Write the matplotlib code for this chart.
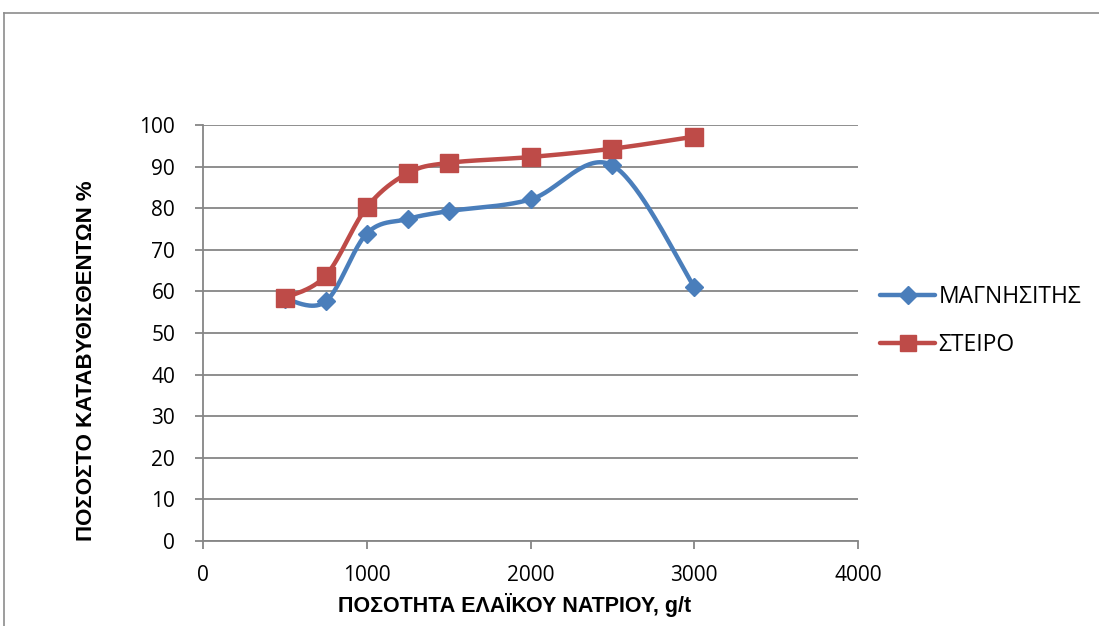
import numpy as np
import matplotlib
matplotlib.use("Agg")
import matplotlib.pyplot as plt
from matplotlib.lines import Line2D

# Sodium oleate dosage (g/t)
dosage = [500, 750, 1000, 1250, 1500, 2000, 2500, 3000]
# Percentage of material sunk (%)
magnesite = [58.2, 57.6, 73.9, 77.4, 79.3, 82.1, 90.3, 61.1]
barren = [58.4, 63.8, 80.2, 88.4, 90.9, 92.3, 94.3, 97.2]

series_names = ["ΜΑΓΝΗΣΙΤΗΣ", "ΣΤΕΙΡΟ"]
x_ticks = [0, 1000, 2000, 3000, 4000]
y_ticks = list(range(0, 101, 10))

BLUE = "#4A7EBB"
RED = "#BE4B48"
GRID = "#868686"


def smooth(xs, ys, n=40):
    """Cardinal (Catmull-Rom style) Bezier smoothing through the points."""
    p = np.column_stack([xs, ys]).astype(float)
    pts = np.vstack([p[0], p, p[-1]])
    out = [p[:1]]
    t = np.linspace(0, 1, n)[1:, None]
    for i in range(1, len(pts) - 2):
        p0, p1, p2, p3 = pts[i - 1], pts[i], pts[i + 1], pts[i + 2]
        c1 = p1 + (p2 - p0) / 6.0
        c2 = p2 - (p3 - p1) / 6.0
        seg = ((1 - t) ** 3) * p1 + 3 * ((1 - t) ** 2) * t * c1 \
            + 3 * (1 - t) * t ** 2 * c2 + t ** 3 * p2
        out.append(seg)
    c = np.vstack(out)
    return c[:, 0], c[:, 1]


W, H = 1099, 626
fig = plt.figure(figsize=(W / 100, H / 100), dpi=100)
ax = fig.add_axes([203 / W, 1 - 541 / H, (858 - 203) / W, (541 - 125) / H])

# chart area frame (top and left edges)
fig.add_artist(Line2D([4 / W, 4 / W], [0, 1 - 13 / H], transform=fig.transFigure,
                      color="#8c8c8c", lw=1.2))
fig.add_artist(Line2D([4 / W, 1], [1 - 13 / H, 1 - 13 / H], transform=fig.transFigure,
                      color="#8c8c8c", lw=1.2))

ax.set_xlim(0, 4000)
ax.set_ylim(0, 100)
ax.set_xticks(x_ticks)
ax.set_yticks(y_ticks)
ax.yaxis.grid(True, color=GRID, lw=1.3)
ax.set_axisbelow(True)

for side in ["top", "right", "bottom"]:
    ax.spines[side].set_visible(False)
ax.spines["left"].set_color(GRID)
ax.spines["left"].set_linewidth(1.3)
ax.spines["left"].set_zorder(1)

ax.tick_params(axis="both", direction="out", length=6, width=1.3, color=GRID,
               labelcolor="black", labelsize=15)
ax.tick_params(axis="x", pad=11)
ax.tick_params(axis="y", pad=14)
for lab in ax.get_xticklabels() + ax.get_yticklabels():
    lab.set_fontfamily("Open Sans")

ax.axhline(0, color=GRID, lw=1.3, zorder=1, clip_on=False)

sx, sy = smooth(dosage, magnesite)
ax.plot(sx, sy, color=BLUE, lw=3.2, solid_capstyle="round", zorder=3)
ax.plot(dosage, magnesite, ls="none", marker="D", ms=9, color=BLUE, zorder=4)

sx, sy = smooth(dosage, barren)
ax.plot(sx, sy, color=RED, lw=3.2, solid_capstyle="round", zorder=5)
ax.plot(dosage, barren, ls="none", marker="s", ms=13.5, color=RED, zorder=6)

handles = [
    Line2D([], [], color=BLUE, lw=3.2, marker="D", ms=9, solid_capstyle="round"),
    Line2D([], [], color=RED, lw=3.2, marker="s", ms=12, solid_capstyle="round"),
]
fig.legend(handles, series_names, loc="center left",
           bbox_to_anchor=(880 / W, 1 - 321 / H), frameon=False,
           prop=dict(family="Open Sans", size=16.5), handlelength=2.4,
           handletextpad=0.15, labelspacing=1.05, borderpad=0, borderaxespad=0)

fig.text(87 / W, 1 - 361 / H, "ΠΟΣΟΣΤΟ ΚΑΤΑΒΥΘΙΣΘΕΝΤΩΝ %", rotation=90,
         ha="center", va="center", family="Liberation Sans", weight="bold",
         size=16)
fig.text(515 / W, 1 - 605 / H, "ΠΟΣΟΤΗΤΑ ΕΛΑΪΚΟΥ ΝΑΤΡΙΟΥ, g/t",
         ha="center", va="center", family="Liberation Sans", weight="bold",
         size=15.5)

fig.savefig("out.png", dpi=100)
